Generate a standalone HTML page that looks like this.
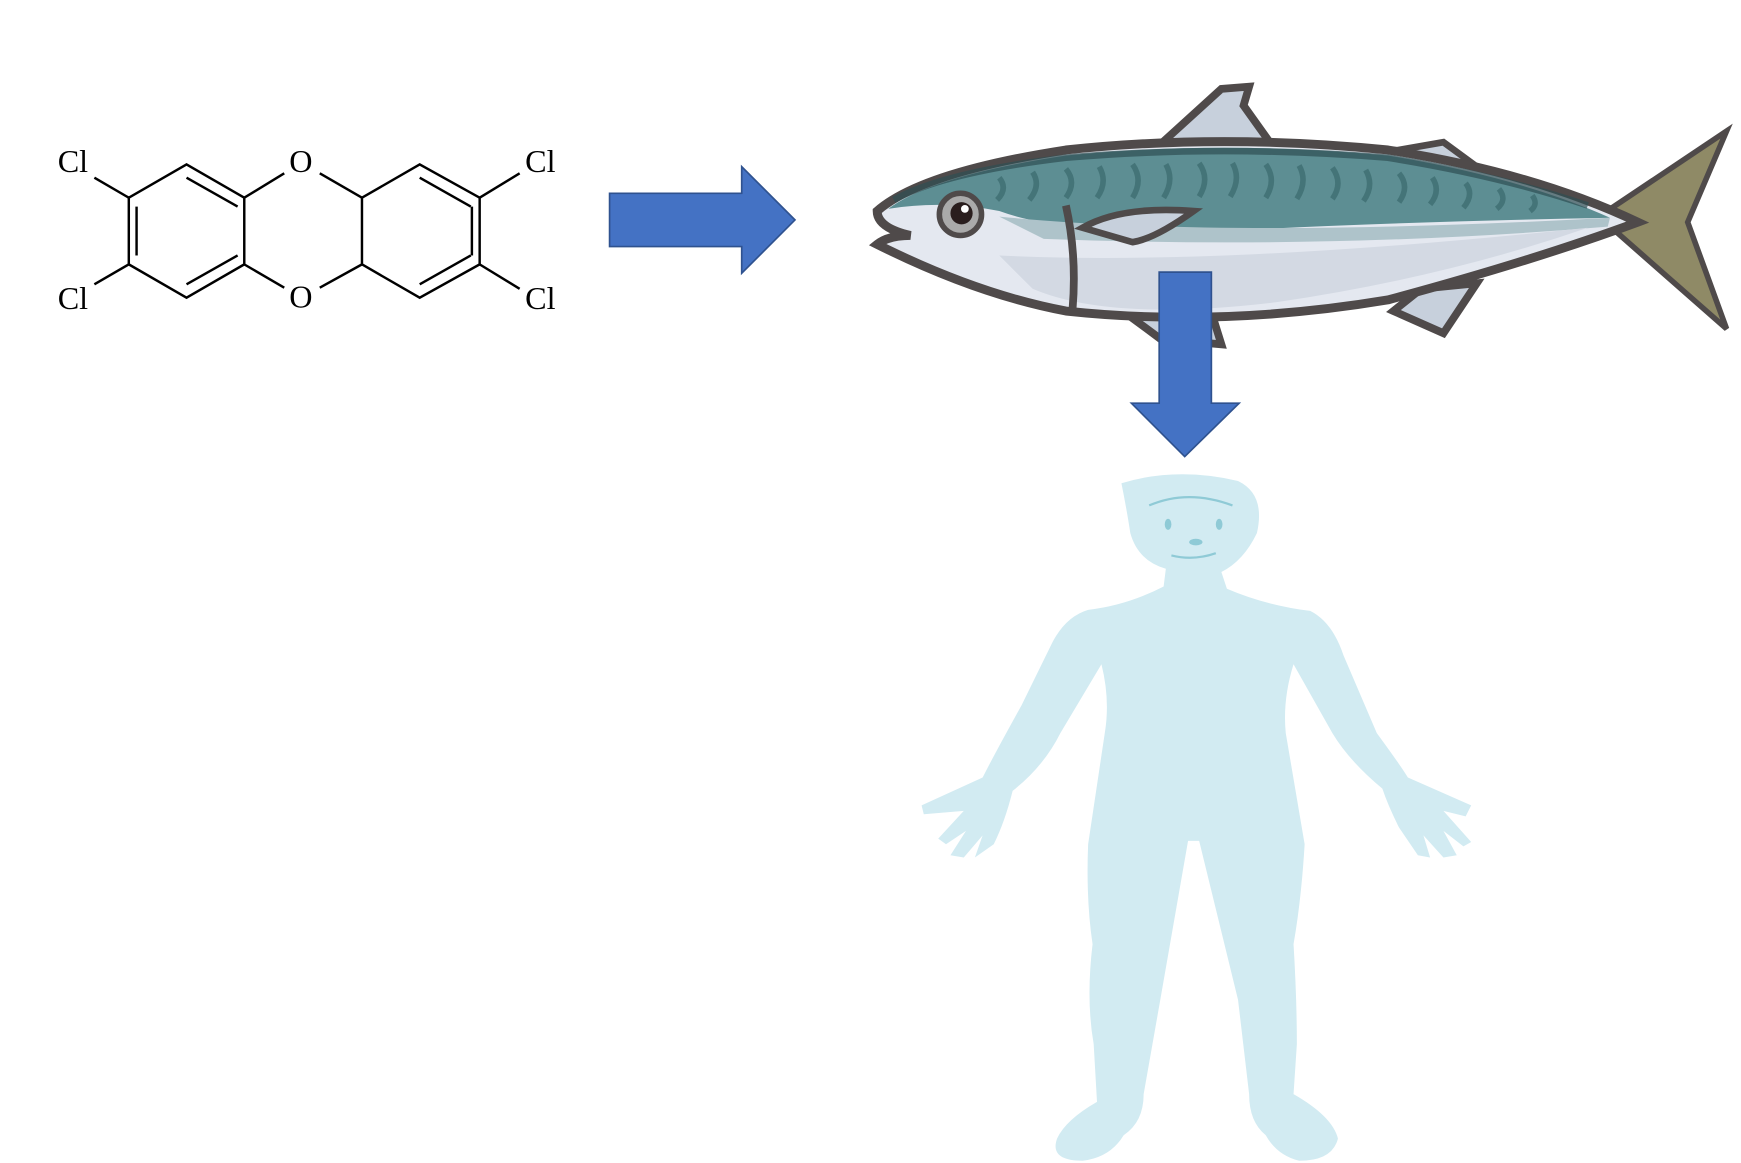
<!DOCTYPE html>
<html><head><meta charset="utf-8"><style>
html,body{margin:0;padding:0;background:#fff;}
svg{display:block;}
text{font-family:"Liberation Serif",serif;font-size:29px;fill:#000;}
</style></head><body>
<svg width="1741" height="1163" viewBox="0 0 1568 1047" preserveAspectRatio="none" xmlns="http://www.w3.org/2000/svg">
<!-- molecule -->
<g stroke="#000" stroke-width="2.2" fill="none">
<polyline points="220,178 168,148 116,178 116,238 168,268 220,238 220,178"/>
<polyline points="326,238 326,178 378,148 432,178 432,238 378,268 326,238"/>
<line x1="168" y1="160" x2="214" y2="186"/><line x1="123" y1="186" x2="123" y2="230"/><line x1="168" y1="256" x2="214" y2="230"/>
<line x1="378" y1="160" x2="424" y2="186"/><line x1="425" y1="186" x2="425" y2="230"/><line x1="378" y1="256" x2="424" y2="230"/>
<line x1="220" y1="178" x2="256" y2="156"/><line x1="288" y1="156" x2="326" y2="178"/>
<line x1="220" y1="238" x2="256" y2="259"/><line x1="288" y1="259" x2="326" y2="238"/>
<line x1="116" y1="178" x2="85" y2="160"/><line x1="116" y1="238" x2="85" y2="256"/>
<line x1="432" y1="178" x2="468" y2="156"/><line x1="432" y1="238" x2="468" y2="260"/>
</g>
<text x="271" y="155" text-anchor="middle">O</text>
<text x="271" y="277" text-anchor="middle">O</text>
<text x="52" y="155">Cl</text><text x="52" y="278">Cl</text>
<text x="473" y="155">Cl</text><text x="473" y="278">Cl</text>
<!-- right arrow -->
<polygon points="549,174 668,174 668,150 716,198 668,246 668,222 549,222" fill="#4472C4" stroke="#2F528F" stroke-width="1.5"/>
<!-- fish -->
<g>
<path d="M1045,130 L1100,80 L1125,78 L1120,95 L1145,130 Z" fill="#c7d0dc" stroke="#4f4a4a" stroke-width="7"/>
<path d="M1260,135 L1300,128 L1330,150 L1290,160 Z" fill="#c7d0dc" stroke="#4f4a4a" stroke-width="6"/>
<path d="M1255,280 L1300,300 L1330,255 L1280,260 Z" fill="#c7d0dc" stroke="#4f4a4a" stroke-width="7"/>
<path d="M1018,285 L1045,305 L1100,310 L1090,278 Z" fill="#c7d0dc" stroke="#4f4a4a" stroke-width="7"/>
<path d="M1440,195 L1555,118 L1520,200 L1555,296 Z" fill="#8f8a66" stroke="#4f4a4a" stroke-width="5"/>
<path d="M790,190 Q830,155 960,135 Q1100,120 1250,135 Q1380,155 1475,200 Q1380,235 1250,270 Q1100,295 960,280 Q880,265 790,220 Q800,212 820,212 Q790,205 790,190 Z" fill="#e4e8f0" stroke="#4f4a4a" stroke-width="8"/>
<path d="M800,188 Q840,158 960,140 Q1100,126 1250,140 Q1370,160 1450,196 Q1250,200 1100,208 Q960,212 900,190 Q850,180 800,188 Z" fill="#5d8e93"/>
<path d="M805,180 Q850,155 960,142 Q1100,130 1250,142 Q1350,158 1430,185" stroke="#2f4f52" stroke-width="6" fill="none" opacity="0.7"/>
<g stroke="#3f6e72" stroke-width="5" fill="none" opacity="0.8">
<path d="M900,160 q8,10 -2,20 M930,155 q8,12 -3,25 M960,152 q10,12 0,26 M990,150 q8,14 -2,28 M1020,148 q10,14 0,30 M1050,148 q8,14 -2,30 M1080,147 q10,14 0,30 M1110,147 q8,14 -2,30 M1140,148 q10,14 0,30 M1170,149 q8,14 -2,30 M1200,151 q10,14 0,28 M1230,153 q8,14 -2,28 M1260,156 q10,12 0,26 M1290,160 q8,12 -2,24 M1320,165 q8,10 -2,22 M1350,170 q8,10 -2,18 M1380,176 q6,8 -2,14"/>
</g>
<path d="M900,195 Q1100,215 1450,196 L1448,204 Q1200,225 940,215 Z" fill="#aec3ca"/>
<path d="M900,230 Q1100,240 1430,205 Q1300,250 1150,272 Q1000,290 930,260 Z" fill="#d3d9e3"/>
<path d="M960,185 Q970,230 966,278" stroke="#4f4a4a" stroke-width="7" fill="none"/>
<path d="M975,205 Q1010,185 1075,190 Q1040,215 1020,218 Z" fill="#c7d0dc" stroke="#4f4a4a" stroke-width="6"/>
<circle cx="865" cy="193" r="19" fill="#aaa" stroke="#4f4a4a" stroke-width="5"/>
<circle cx="866" cy="192" r="10" fill="#2a1e1e"/><circle cx="869" cy="188" r="3.5" fill="#fff"/>
</g>
<!-- down arrow -->
<polygon points="1044,245 1091,245 1091,363 1116,363 1067,411 1019,363 1044,363" fill="#4472C4" stroke="#2F528F" stroke-width="1.5"/>
<!-- human -->
<g fill="#d2ebf2">
<path d="M1010,435 Q1060,420 1115,433 Q1140,445 1132,480 Q1120,505 1100,515 L1105,530 Q1140,545 1180,550 Q1200,560 1210,590 L1240,660 Q1262,690 1268,700 L1325,725 L1320,735 L1300,730 L1325,758 L1318,762 L1300,748 L1312,770 L1300,772 L1282,752 L1288,772 L1277,770 L1260,745 Q1250,725 1245,710 Q1215,685 1200,660 L1165,598 Q1155,630 1158,660 L1175,760 Q1172,810 1165,850 Q1168,900 1168,940 L1165,985 Q1200,1005 1205,1025 Q1200,1045 1170,1045 Q1150,1040 1140,1022 Q1125,1010 1125,985 L1115,900 L1080,757 L1070,757 L1045,900 L1030,985 Q1030,1010 1012,1022 Q1000,1042 975,1045 Q945,1045 952,1025 Q960,1008 988,992 L985,940 Q978,900 984,850 Q978,810 980,760 L995,660 Q1000,630 992,598 L955,660 Q940,690 912,712 Q905,740 895,760 L878,772 L885,752 L868,772 L856,770 L870,748 L852,760 L845,755 L868,730 L832,733 L830,725 L885,700 Q895,680 920,635 L948,578 Q960,555 980,549 Q1015,545 1048,528 L1050,512 Q1025,505 1018,480 Q1015,460 1010,435 Z"/>
</g>
<g stroke="#8fcad6" stroke-width="2" fill="none">
<path d="M1055,500 Q1075,505 1095,498"/>
<path d="M1035,455 Q1070,440 1110,455"/>
</g>
<g fill="#8fcad6"><ellipse cx="1052" cy="472" rx="3" ry="5"/><ellipse cx="1098" cy="472" rx="3" ry="5"/><ellipse cx="1077" cy="488" rx="6" ry="3"/></g>
</svg>
</body></html>
